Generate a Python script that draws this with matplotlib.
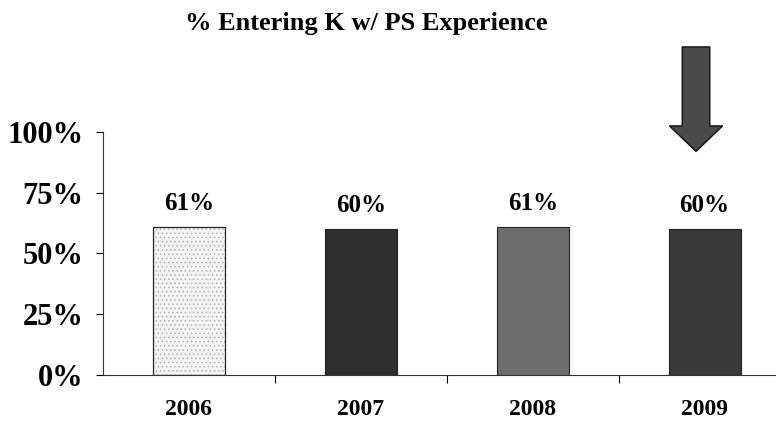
import numpy as np
import matplotlib
matplotlib.use('Agg')
import matplotlib.pyplot as plt
from matplotlib.patches import FancyArrow

years = ['2006', '2007', '2008', '2009']
pct = [61, 60, 61, 60]
colors = ['#f3f3f3', '#2e2e2e', '#6e6e6e', '#3a3a3a']
yticks = [0, 25, 50, 75, 100]

plt.rcParams['font.family'] = ['Liberation Serif', 'DejaVu Serif']
plt.rcParams['font.weight'] = 'bold'
plt.rcParams['hatch.linewidth'] = 0.6

fig = plt.figure(figsize=(7.76, 4.23), dpi=100)
ax = fig.add_axes([0.1327, 0.1135, 0.875, 0.5745])

x = np.arange(len(years))
bars = ax.bar(x, pct, width=0.42, color=colors, edgecolor='#222222', linewidth=0.8, zorder=2)
# stipple on the first bar
ax.bar(x[0], pct[0], width=0.42, color='none', edgecolor='#b0b0b0', hatch='....', linewidth=0, zorder=3)
ax.bar(x[0], pct[0], width=0.42, color='none', edgecolor='#222222', linewidth=0.8, zorder=4)

for xi, v in zip(x, pct):
    ax.text(xi, v + 5, '%d%%' % v, ha='center', va='bottom', fontsize=18, fontweight='bold')

ax.set_ylim(0, 100)
ax.set_xlim(-0.5, 3.45)
ax.set_yticks(yticks)
ax.set_yticklabels(['%d%%' % t for t in yticks], fontsize=22, fontweight='bold')
ax.set_xticks(x)
ax.set_xticklabels(years, fontsize=17, fontweight='bold')
ax.set_xticks([0.5, 1.5, 2.5], minor=True)
ax.tick_params(axis='x', which='major', length=0, pad=17)
ax.tick_params(axis='x', which='minor', length=6, width=0.8, direction='out')
ax.tick_params(axis='y', length=5, width=0.8, pad=9)
for s in ['top', 'right']:
    ax.spines[s].set_visible(False)
for s in ['left', 'bottom']:
    ax.spines[s].set_linewidth(0.8)
    ax.spines[s].set_color('#333333')

# arrow pointing at 2009
arr = FancyArrow(2.95, 135, 0, -43, width=0.16, head_width=0.31, head_length=10.5,
                 length_includes_head=True, facecolor='#4a4a4a', edgecolor='#111111',
                 linewidth=1.0, clip_on=False, zorder=5)
ax.add_patch(arr)

fig.text(0.472, 0.945, '% Entering K w/ PS Experience', ha='center', va='center',
         fontsize=19, fontweight='bold')

fig.savefig('out.png', dpi=100)
